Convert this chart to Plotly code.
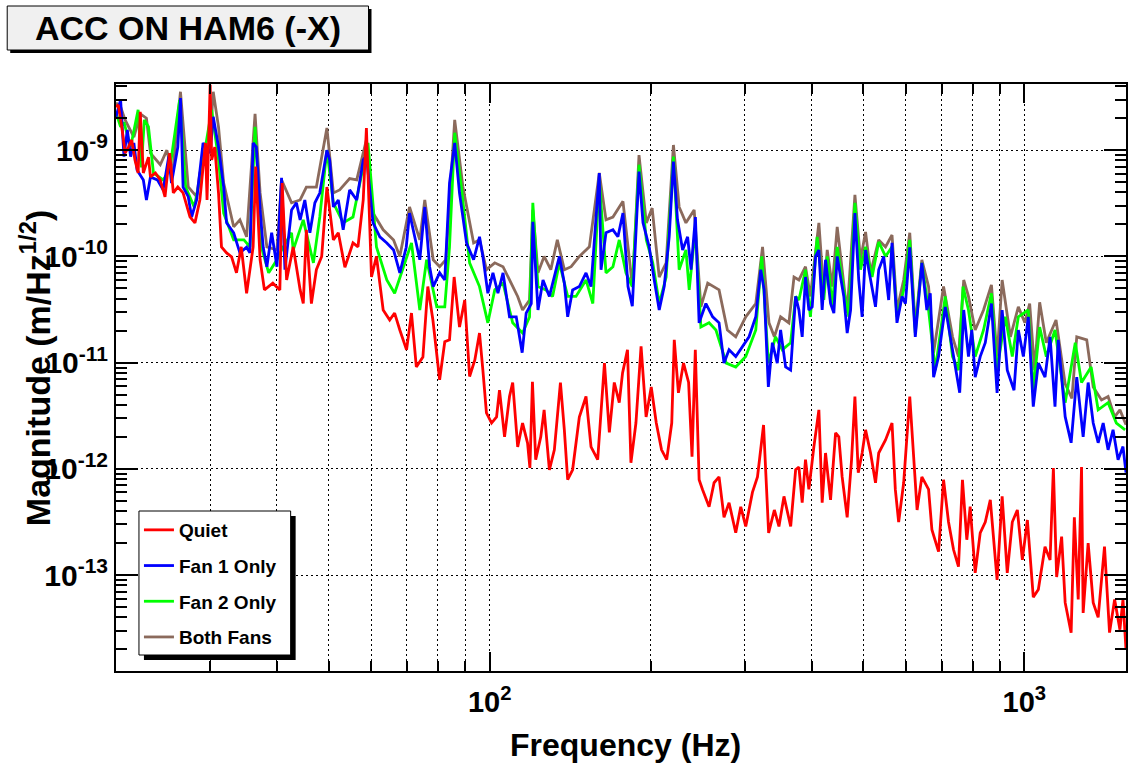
import math
import plotly.graph_objects as go

# ---------------- data (frequency in Hz, magnitude in m/Hz^1/2) ----------------
QUIET = [
    (20.0, 2.56e-9), (20.2, 2.67e-9), (20.5, 1.66e-9), (20.8, 9.4e-10), (21.1, 1.07e-9),
    (21.4, 1.25e-9), (21.7, 8.1e-10), (22.0, 6.1e-10), (22.2, 2.3e-9), (22.5, 6.1e-10),
    (23.0, 8.6e-10), (23.2, 5.6e-10), (23.7, 6.1e-10), (24.2, 5.25e-10), (24.7, 3.63e-10),
    (25.2, 9.4e-10), (25.6, 3.96e-10), (26.1, 4.5e-10), (26.7, 3.96e-10), (27.5, 2.36e-10),
    (28.1, 2.07e-10), (28.7, 3.4e-10), (29.4, 1.17e-9), (29.6, 3.4e-10), (30.0, 4.12e-9),
    (30.2, 8.1e-10), (30.6, 1.07e-9), (31.1, 3.96e-10), (31.5, 1.23e-10), (32.2, 1.08e-10),
    (32.9, 9.9e-11), (33.6, 7.0e-11), (34.3, 1.23e-10), (35.1, 4.5e-11), (36.1, 1.23e-10),
    (36.5, 7.0e-10), (37.2, 9.3e-11), (37.9, 4.84e-11), (39.3, 5.6e-11), (40.5, 4.84e-11),
    (40.9, 4.9e-10), (41.7, 6.0e-11), (42.9, 1.23e-10), (44.2, 4.84e-11), (44.8, 3.6e-11),
    (45.4, 1.78e-10), (46.4, 3.6e-11), (47.4, 7.5e-11), (48.5, 1.0e-10), (49.6, 4.5e-10),
    (51.0, 1.43e-10), (52.1, 1.67e-10), (53.6, 7.9e-11), (55.5, 1.34e-10), (56.7, 1.23e-10),
    (58.0, 3.4e-10), (58.8, 1.62e-9), (60.1, 6.4e-11), (61.4, 1.0e-10), (63.2, 3.13e-11),
    (65.0, 2.52e-11), (66.4, 2.93e-11), (67.9, 2.03e-11), (69.9, 1.32e-11), (71.4, 2.93e-11),
    (72.9, 9.1e-12), (75.0, 1.13e-11), (76.6, 5.2e-11), (78.3, 2.52e-11), (80.6, 6.9e-12),
    (82.4, 1.57e-11), (84.1, 1.64e-11), (85.8, 6.4e-11), (87.8, 2.16e-11), (89.8, 3.89e-11),
    (91.7, 7.4e-12), (93.8, 1.06e-11), (95.7, 1.9e-11), (97.1, 8.5e-12), (98.6, 3.36e-12),
    (100.8, 2.7e-12), (103.0, 3.08e-12), (104.3, 5.5e-12), (106.6, 2.0e-12), (108.9, 4.8e-12),
    (110.4, 6.5e-12), (112.8, 1.61e-12), (115.2, 2.7e-12), (117.7, 1.75e-12), (118.9, 1.02e-12),
    (120.2, 6.6e-12), (121.9, 1.22e-12), (124.6, 2.0e-12), (126.4, 3.59e-12), (129.3, 9.8e-13),
    (132.1, 1.51e-12), (135.6, 6.5e-12), (137.9, 2.33e-12), (139.9, 7.9e-13), (142.9, 9.8e-13),
    (147.1, 3.08e-12), (151.4, 4.8e-12), (154.7, 1.61e-12), (159.2, 1.22e-12), (163.9, 9.9e-12),
    (167.4, 2.2e-12), (171.0, 6.5e-12), (174.7, 4.2e-12), (177.2, 8.0e-12), (181.0, 1.32e-11),
    (183.7, 1.14e-12), (187.7, 2.7e-12), (191.9, 1.42e-11), (196.1, 3.08e-12), (200.5, 5.9e-12),
    (204.9, 2.7e-12), (209.6, 1.51e-12), (214.3, 1.22e-12), (219.0, 2.7e-12), (221.4, 1.64e-11),
    (225.4, 5.2e-12), (230.4, 9.9e-12), (235.5, 6.5e-12), (239.0, 1.3e-12), (242.4, 1.32e-11),
    (246.4, 7.9e-13), (250.0, 6.4e-13), (257.2, 4.4e-13), (262.8, 7.4e-13), (268.5, 8.4e-13),
    (274.3, 3.5e-13), (280.3, 4.8e-13), (288.5, 2.5e-13), (294.8, 4.4e-13), (301.2, 2.87e-13),
    (310.0, 6.0e-13), (316.8, 8.4e-13), (325.2, 2.59e-12), (332.4, 2.5e-13), (340.7, 4.1e-13),
    (347.5, 2.87e-13), (355.1, 5.5e-13), (365.5, 2.87e-13), (373.4, 9.8e-13), (378.7, 1.04e-12),
    (384.1, 4.8e-13), (389.6, 1.22e-12), (395.3, 6.4e-13), (403.9, 1.61e-12), (412.7, 3.59e-12),
    (418.6, 4.8e-13), (424.7, 1.41e-12), (434.0, 5.1e-13), (443.5, 2.18e-12), (449.7, 2.0e-12),
    (456.2, 8.4e-13), (466.2, 3.5e-13), (475.1, 1.22e-12), (482.0, 4.8e-12), (489.0, 9.2e-13),
    (497.2, 1.41e-12), (504.6, 2.33e-12), (515.6, 1.41e-12), (526.7, 7.4e-13), (534.0, 1.41e-12),
    (549.9, 1.87e-12), (565.5, 2.7e-12), (573.6, 6.4e-13), (581.9, 3.16e-13), (594.6, 7.4e-13),
    (610.4, 4.8e-12), (621.0, 1.41e-12), (630.0, 4.1e-13), (643.0, 8.4e-13), (661.9, 6.4e-13),
    (671.5, 2.67e-13), (691.0, 1.66e-13), (706.0, 7.9e-13), (721.3, 3.16e-13), (737.1, 1.73e-13),
    (752.9, 1.2e-13), (765.9, 7.9e-13), (780.4, 2.15e-13), (791.8, 4.4e-13), (809.1, 1.05e-13),
    (826.8, 2.5e-13), (845.0, 3.16e-13), (863.5, 5.1e-13), (889.1, 9.0e-14), (908.7, 5.5e-13),
    (928.9, 1.05e-13), (949.3, 3.16e-13), (970.1, 4.1e-13), (991.3, 1.39e-13), (1013, 3.3e-13),
    (1039, 6.2e-14), (1062, 7.3e-14), (1093, 1.85e-13), (1117, 1.39e-13), (1133, 1.02e-12),
    (1149, 9.6e-14), (1174, 2.3e-13), (1192, 5.5e-14), (1223, 2.87e-14), (1240, 3.5e-13),
    (1261, 5.9e-14), (1279, 1.04e-12), (1288, 4.4e-14), (1316, 2.0e-13), (1345, 5.5e-14),
    (1374, 4.0e-14), (1412, 1.85e-13), (1443, 2.87e-14), (1475, 5.9e-14), (1509, 3.06e-14),
    (1529, 5.9e-14), (1549, 1.99e-14),
]

FAN1 = [
    (20.0, 2.06e-9), (20.4, 2.98e-9), (20.7, 8.7e-10), (21.0, 1.55e-9), (21.3, 8.7e-10),
    (21.6, 1.17e-9), (21.9, 6.5e-10), (22.5, 5.25e-10), (22.8, 3.4e-10), (23.2, 5.6e-10),
    (23.9, 5.25e-10), (24.5, 4.23e-10), (25.1, 8.7e-10), (25.4, 4.9e-10), (26.1, 1.07e-9),
    (26.4, 3.1e-9), (26.7, 4.5e-10), (27.3, 3.65e-10), (27.7, 2.35e-10), (28.3, 3.4e-10),
    (29.1, 1.17e-9), (30.0, 9.4e-10), (30.4, 2.06e-9), (31.1, 1.07e-9), (31.8, 4.5e-10),
    (32.2, 2.07e-10), (33.2, 1.67e-10), (34.1, 1.08e-10), (35.1, 1.22e-10), (35.6, 1.08e-10),
    (36.1, 1.17e-9), (36.6, 1.07e-9), (37.2, 2.74e-10), (37.7, 1.22e-10), (38.3, 8.0e-11),
    (39.1, 1.67e-10), (40.0, 8.0e-11), (40.8, 5.5e-10), (41.4, 7.5e-11), (42.6, 2.74e-10),
    (43.5, 3.2e-10), (44.2, 2.21e-10), (45.1, 3.4e-10), (46.1, 1.67e-10), (47.1, 3.2e-10),
    (48.1, 3.95e-10), (49.6, 1.0e-9), (50.2, 8.1e-10), (51.0, 2.92e-10), (52.1, 3.4e-10),
    (53.2, 1.78e-10), (54.7, 4.23e-10), (56.4, 3.4e-10), (58.0, 8.1e-10), (58.8, 9.0e-10),
    (60.5, 2.07e-10), (62.3, 1.53e-10), (64.2, 1.34e-10), (66.1, 1.15e-10), (67.9, 7.0e-11),
    (69.8, 1.22e-10), (70.8, 2.56e-10), (72.4, 1.53e-10), (74.0, 9.3e-11), (75.6, 2.92e-10),
    (77.2, 8.0e-11), (78.4, 5.2e-11), (80.6, 7.0e-11), (82.4, 6.0e-11), (84.1, 4.9e-10),
    (86.0, 1.17e-9), (87.8, 3.95e-10), (90.5, 1.34e-10), (93.3, 9.3e-11),
    (95.7, 1.53e-10), (97.1, 1.0e-10), (99.2, 4.5e-11), (101.4, 7.0e-11), (103.6, 4.5e-11),
    (105.9, 7.0e-11), (108.9, 2.7e-11), (112.1, 2.7e-11), (115.0, 1.24e-11), (117.0, 2.93e-11),
    (119.6, 3.6e-11), (120.4, 2.12e-10), (123.1, 3.13e-11), (125.8, 6.0e-11), (129.3, 4.2e-11),
    (132.1, 6.4e-11), (135.0, 1.0e-10), (137.9, 5.6e-11), (139.9, 2.7e-11), (142.9, 4.84e-11),
    (147.1, 5.2e-11), (151.4, 7.0e-11), (154.7, 5.2e-11), (158.1, 2.35e-10), (160.3, 6.1e-10),
    (161.5, 7.5e-11), (165.0, 1.67e-10), (170.0, 1.78e-10), (173.7, 1.53e-10), (177.5, 2.56e-10),
    (181.4, 5.2e-11), (184.8, 3.4e-11), (188.1, 1.78e-10), (190.2, 6.3e-10), (193.5, 2.07e-10),
    (198.8, 1.22e-10), (203.1, 6.0e-11), (207.5, 3.13e-11), (212.0, 5.2e-11), (216.6, 1.53e-10),
    (220.6, 7.8e-10), (224.5, 2.21e-10), (229.5, 1.15e-10), (234.5, 1.53e-10), (238.0, 7.5e-11),
    (242.5, 2.35e-10), (246.4, 2.37e-11), (253.7, 3.6e-11), (261.2, 2.7e-11), (268.5, 2.37e-11),
    (274.3, 9.9e-12), (280.3, 1.32e-11), (288.5, 1.14e-11), (297.0, 1.42e-11), (305.5, 1.75e-11),
    (314.5, 2.7e-11), (321.3, 7.5e-11), (326.0, 4.84e-11), (332.0, 5.9e-12), (337.8, 1.54e-11),
    (345.0, 9.9e-12), (350.0, 2.03e-11), (357.6, 9.1e-12), (365.4, 8.5e-12), (373.4, 4.2e-11),
    (378.7, 3.13e-11), (384.1, 1.75e-11), (389.6, 6.4e-11), (395.3, 3.13e-11), (401.0, 3.35e-11),
    (406.9, 1.0e-10), (412.7, 1.15e-10), (418.6, 3.13e-11), (424.7, 9.3e-11), (434.0, 3.6e-11),
    (440.2, 2.93e-11), (446.6, 1.0e-10), (453.1, 6.4e-11), (459.5, 4.2e-11), (466.2, 1.9e-11),
    (473.1, 3.13e-11), (482.0, 2.56e-10), (490.0, 6.0e-11), (497.2, 2.7e-11), (504.6, 1.15e-10),
    (511.6, 7.5e-11), (519.0, 5.2e-11), (526.7, 3.35e-11), (534.0, 7.5e-11), (545.6, 1.0e-10),
    (557.4, 3.89e-11), (565.5, 1.34e-10), (577.7, 2.37e-11), (590.4, 4.2e-11), (599.1, 3.6e-11),
    (610.4, 1.22e-10), (625.1, 1.75e-11), (643.0, 8.7e-11), (657.0, 3.13e-11), (666.8, 4.5e-11),
    (676.4, 7.3e-12), (691.0, 1.14e-11), (711.2, 3.35e-11), (726.9, 1.75e-11), (742.6, 8.5e-12),
    (756.9, 5.2e-12), (770.1, 3.13e-11), (786.0, 1.14e-11), (797.4, 2.03e-11), (809.1, 7.3e-12),
    (826.8, 1.14e-11), (845.0, 1.54e-11), (867.7, 3.6e-11), (889.1, 5.2e-12), (908.7, 3.13e-11),
    (928.9, 8.5e-12), (956.3, 5.5e-12), (974.3, 2.03e-11), (995.6, 1.14e-11), (1017, 2.7e-11),
    (1039, 3.85e-12), (1062, 9.9e-12), (1093, 7.3e-12), (1117, 1.75e-11), (1141, 3.85e-12),
    (1157, 1.64e-11), (1192, 3.1e-12), (1223, 1.76e-12), (1253, 7.3e-12), (1288, 2.0e-12),
    (1316, 6.5e-12), (1345, 2.7e-12), (1374, 1.76e-12), (1404, 2.7e-12), (1434, 1.51e-12),
    (1465, 2.33e-12), (1497, 1.22e-12), (1529, 1.62e-12), (1549, 9.2e-13),
]

FAN2 = [
    (20.0, 2.25e-9), (20.4, 1.66e-9), (20.7, 1.83e-9), (21.3, 1.07e-9), (22.0, 2.4e-9),
    (22.3, 6.9e-10), (22.6, 1.93e-9), (23.0, 1.66e-9), (23.5, 6.1e-10), (24.5, 5.25e-10),
    (25.2, 6.5e-10), (26.3, 2.98e-9), (27.0, 4.5e-10), (28.0, 2.92e-10), (28.7, 5.25e-10),
    (30.2, 2.4e-9), (31.1, 8.1e-10), (31.8, 2.56e-10), (33.2, 1.43e-10), (34.7, 1.43e-10),
    (35.6, 1.23e-10), (36.4, 1.66e-9), (37.4, 1.23e-10), (38.6, 7.0e-11), (40.0, 9.3e-11),
    (40.8, 1.15e-10), (42.6, 1.67e-10), (42.9, 1.15e-10), (44.8, 2.21e-10), (46.8, 8.7e-11),
    (48.1, 2.35e-10), (49.6, 1.0e-9), (51.0, 3.2e-10), (53.2, 2.07e-10), (55.5, 2.35e-10),
    (58.0, 7.0e-10), (59.2, 1.17e-9), (61.4, 1.23e-10), (64.2, 6.0e-11), (66.4, 4.5e-11),
    (68.8, 7.5e-11), (71.4, 1.34e-10), (74.0, 3.13e-11), (76.2, 9.3e-11), (79.6, 3.35e-11),
    (82.4, 3.35e-11), (84.1, 1.23e-10), (86.0, 1.46e-9), (88.5, 4.5e-10), (91.7, 8.7e-11),
    (95.7, 5.2e-11), (99.2, 2.37e-11), (102.2, 4.84e-11), (105.9, 5.6e-11), (110.4, 2.37e-11),
    (115.2, 1.9e-11), (118.7, 2.7e-11), (120.4, 3.2e-10), (123.1, 5.2e-11), (127.4, 4.84e-11),
    (131.1, 4.2e-11), (135.0, 8.7e-11), (139.9, 4.2e-11), (145.0, 4.2e-11), (151.4, 6.0e-11),
    (155.9, 3.6e-11), (160.3, 5.25e-10), (165.0, 7.0e-11), (170.0, 8.0e-11), (174.7, 1.43e-10),
    (179.8, 7.0e-11), (184.8, 5.2e-11), (190.2, 7.3e-10), (196.3, 1.43e-10), (201.8, 8.7e-11),
    (207.5, 3.6e-11), (213.8, 6.4e-11), (220.6, 8.7e-10), (226.1, 7.5e-11), (232.8, 1.15e-10),
    (236.1, 4.84e-11), (242.4, 1.78e-10), (248.3, 2.16e-11), (257.2, 2.37e-11), (264.9, 2.03e-11),
    (277.0, 9.9e-12), (288.5, 9.1e-12), (301.2, 1.14e-11), (314.5, 2.03e-11), (322.7, 1.0e-10),
    (332.0, 9.9e-12), (342.4, 1.75e-11), (352.5, 1.32e-11), (365.4, 1.54e-11), (373.4, 4.2e-11),
    (378.7, 3.89e-11), (389.6, 7.5e-11), (397.9, 2.7e-11), (409.7, 1.53e-10), (421.6, 3.89e-11),
    (427.8, 1.0e-10), (437.2, 3.35e-11), (446.6, 1.23e-10), (459.5, 4.84e-11), (469.5, 2.7e-11),
    (482.0, 3.2e-10), (493.7, 7.5e-11), (504.6, 1.23e-10), (519.0, 6.4e-11), (534.0, 1.37e-10),
    (549.9, 1.0e-10), (565.5, 1.23e-10), (577.7, 2.7e-11), (594.6, 4.84e-11), (610.4, 1.43e-10),
    (625.1, 1.9e-11), (643.0, 8.7e-11), (661.9, 3.13e-11), (681.3, 8.5e-12), (711.2, 4.2e-11),
    (733.9, 1.14e-11), (752.9, 8.5e-12), (767.8, 5.2e-11), (786.0, 3.13e-11), (809.1, 1.14e-11),
    (838.7, 2.03e-11), (867.7, 4.5e-11), (889.1, 8.5e-12), (921.1, 2.7e-11), (949.3, 1.14e-11),
    (974.3, 2.7e-11), (1017, 3.13e-11), (1039, 5.5e-12), (1068, 2.16e-11), (1099, 1.14e-11),
    (1141, 2.03e-11), (1192, 4.2e-12), (1245, 1.54e-11), (1279, 6.5e-12), (1333, 9.1e-12),
    (1374, 3.59e-12), (1434, 4.2e-12), (1486, 2.7e-12), (1543, 2.33e-12),
]

BOTH = [
    (20.0, 2.79e-9), (20.4, 2.56e-9), (20.8, 1.93e-9), (21.6, 1.33e-9), (22.2, 2.2e-9),
    (22.8, 2.0e-9), (23.2, 9.4e-10), (24.2, 7.3e-10), (24.9, 1.0e-9), (25.5, 5.85e-10),
    (26.4, 3.55e-9), (27.3, 4.5e-10), (28.3, 3.65e-10), (28.7, 6.1e-10), (30.0, 1.25e-9),
    (30.4, 3.55e-9), (31.1, 1.66e-9), (31.8, 4.9e-10), (33.2, 1.9e-10), (34.1, 2.21e-10),
    (35.1, 1.53e-10), (36.4, 2.2e-9), (37.2, 3.96e-10), (38.3, 1.23e-10), (40.0, 1.15e-10),
    (40.8, 5.25e-10), (42.6, 3.2e-10), (44.2, 3.4e-10), (45.4, 4.5e-10), (47.4, 4.5e-10),
    (49.6, 1.62e-9), (51.0, 3.96e-10), (52.4, 4.23e-10), (54.7, 5.4e-10), (56.4, 5.25e-10),
    (58.8, 1.25e-9), (60.5, 2.56e-10), (63.2, 1.78e-10), (66.1, 1.43e-10), (67.9, 1.0e-10),
    (70.8, 2.92e-10), (74.0, 1.43e-10), (75.6, 3.4e-10), (78.4, 9.3e-11), (80.6, 8.0e-11),
    (82.8, 9.3e-11), (86.0, 1.93e-9), (89.1, 4.5e-10), (93.3, 1.34e-10),
    (95.7, 1.43e-10), (98.6, 7.5e-11), (102.2, 8.7e-11), (105.9, 8.0e-11), (109.7, 5.6e-11),
    (112.8, 4.2e-11), (115.2, 3.13e-11), (118.7, 3.89e-11), (120.4, 2.74e-10), (123.1, 7.0e-11),
    (126.4, 1.0e-10), (130.1, 7.5e-11), (133.8, 1.43e-10), (137.9, 7.5e-11), (142.0, 8.0e-11),
    (147.1, 1.0e-10), (153.6, 1.23e-10), (157.0, 2.74e-10), (160.3, 6.1e-10), (165.0, 2.21e-10),
    (170.0, 2.35e-10), (177.5, 3.3e-10), (182.4, 1.0e-10), (184.9, 5.2e-11), (190.2, 9.0e-10),
    (196.3, 2.07e-10), (201.3, 2.85e-10), (207.5, 6.4e-11), (213.8, 8.7e-11), (220.6, 1.12e-9),
    (226.1, 2.92e-10), (232.8, 2.07e-10), (241.2, 2.74e-10), (248.3, 3.35e-11), (255.7, 5.6e-11),
    (268.5, 4.84e-11), (278.3, 2.03e-11), (288.5, 1.75e-11), (301.2, 2.7e-11), (314.5, 3.6e-11),
    (323.8, 1.23e-10), (332.9, 2.37e-11), (340.7, 1.75e-11), (350.0, 2.7e-11), (362.7, 2.37e-11),
    (370.8, 6.4e-11), (378.7, 6.0e-11), (389.6, 8.0e-11), (397.9, 4.2e-11), (412.7, 2.07e-10),
    (421.6, 4.5e-11), (427.8, 1.15e-10), (437.2, 5.2e-11), (446.6, 1.9e-10), (456.2, 7.5e-11),
    (466.2, 2.93e-11), (482.0, 3.79e-10), (493.7, 9.3e-11), (504.6, 1.7e-10), (515.6, 7.0e-11),
    (534.0, 1.43e-10), (549.9, 1.23e-10), (565.5, 1.59e-10), (577.7, 3.13e-11), (594.6, 6.0e-11),
    (610.4, 1.67e-10), (625.1, 2.16e-11), (643.0, 9.3e-11), (661.9, 5.2e-11), (676.4, 1.24e-11),
    (706.0, 5.2e-11), (733.9, 1.75e-11), (752.9, 1.14e-11), (770.1, 6.0e-11), (786.0, 4.2e-11),
    (809.1, 2.03e-11), (838.7, 3.13e-11), (867.7, 5.4e-11), (889.1, 1.14e-11), (908.7, 6.0e-11),
    (941.6, 1.75e-11), (974.3, 3.35e-11), (1002, 2.37e-11), (1023, 3.6e-11), (1045, 8.5e-12),
    (1068, 3.7e-11), (1099, 1.54e-11), (1146, 2.52e-11), (1192, 6.3e-12), (1227, 4.6e-12),
    (1253, 1.75e-11), (1308, 1.64e-11), (1345, 5.9e-12), (1394, 4.46e-12), (1434, 4.8e-12),
    (1475, 3.08e-12), (1509, 3.59e-12), (1549, 2.6e-12),
]

quiet_freq = [p[0] for p in QUIET]
quiet_mag = [p[1] for p in QUIET]
fan1_freq = [p[0] for p in FAN1]
fan1_mag = [p[1] for p in FAN1]
fan2_freq = [p[0] for p in FAN2]
fan2_mag = [p[1] for p in FAN2]
both_freq = [p[0] for p in BOTH]
both_mag = [p[1] for p in BOTH]

X_MIN, X_MAX = 20, 1549
Y_MIN, Y_MAX = 1.25e-14, 4.2e-9
X_MAJOR = [100, 1000]
X_MAJOR_TEXT = ["10<sup>2</sup>", "10<sup>3</sup>"]
X_MINOR = [20, 30, 40, 50, 60, 70, 80, 90, 200, 300, 400, 500, 600, 700, 800, 900]
Y_MAJOR = [1e-13, 1e-12, 1e-11, 1e-10, 1e-9]
Y_MAJOR_TEXT = ["10<sup>-13</sup>", "10<sup>-12</sup>", "10<sup>-11</sup>",
                "10<sup>-10</sup>", "10<sup>-9</sup>"]
Y_MINOR = [k * 10.0 ** e for e in range(-14, -8) for k in range(2, 10)]

TITLE = "ACC ON HAM6 (-X)"
X_TITLE = "Frequency (Hz)"
Y_TITLE = "Magnitude (m/Hz<sup>1/2</sup>)"

# ---------------- layout geometry ----------------
W, H = 1130, 763
ML, MR, MT, MB = 116, 2, 84, 92
PW, PH = W - ML - MR, H - MT - MB


def px_x(px):
    return (px - ML) / PW


def px_y(py):
    return (H - MB - py) / PH


FONT = "Liberation Sans, Arial, Helvetica, sans-serif"

fig = go.Figure()
series = [
    ("Both Fans", both_freq, both_mag, "#8b6a5c", 4),
    ("Fan 2 Only", fan2_freq, fan2_mag, "#00ff00", 3),
    ("Fan 1 Only", fan1_freq, fan1_mag, "#0000ff", 2),
    ("Quiet", quiet_freq, quiet_mag, "#ff0000", 1),
]
for name, fx, my, col, rank in series:
    fig.add_trace(go.Scatter(
        x=fx, y=my, mode="lines", name=name, legendgroup="g%d" % rank,
        legendrank=rank, line=dict(color=col, width=2.8),
    ))

dot = "2px,3px"
fig.update_xaxes(
    type="log", range=[math.log10(X_MIN), math.log10(X_MAX)],
    tickmode="array", tickvals=X_MAJOR, ticktext=X_MAJOR_TEXT,
    ticks="inside", ticklen=19, tickwidth=1.5, tickcolor="black",
    showgrid=True, gridcolor="black", gridwidth=1, griddash=dot,
    showline=True, linecolor="black", linewidth=2, mirror="allticks",
    tickfont=dict(family=FONT, size=29, color="black", weight="bold"),
    ticklabelstandoff=4,
    minor=dict(tickmode="array", tickvals=X_MINOR, ticks="inside", ticklen=10,
               tickwidth=1.5, tickcolor="black", showgrid=True,
               gridcolor="black", gridwidth=1, griddash=dot),
    zeroline=False,
)
fig.update_yaxes(
    type="log", range=[math.log10(Y_MIN), math.log10(Y_MAX)],
    tickmode="array", tickvals=Y_MAJOR, ticktext=Y_MAJOR_TEXT,
    ticks="inside", ticklen=22, tickwidth=1.5, tickcolor="black",
    showgrid=True, gridcolor="black", gridwidth=1, griddash=dot,
    showline=True, linecolor="black", linewidth=2, mirror="allticks",
    tickfont=dict(family=FONT, size=30, color="black", weight="bold"),
    ticklabelstandoff=0,
    minor=dict(tickmode="array", tickvals=Y_MINOR, ticks="inside", ticklen=11,
               tickwidth=1.5, tickcolor="black", showgrid=False),
    zeroline=False,
)

shapes = [
    # title box shadow + box
    dict(type="rect", xref="paper", yref="paper", x0=px_x(10), x1=px_x(372),
         y0=px_y(53), y1=px_y(9), fillcolor="black", line=dict(width=0)),
    dict(type="rect", xref="paper", yref="paper", x0=px_x(7), x1=px_x(369),
         y0=px_y(50), y1=px_y(6), fillcolor="#f0f0f0",
         line=dict(color="black", width=1)),
    # legend frame: shadow + white box (legend items drawn on top)
    dict(type="rect", xref="paper", yref="paper", x0=px_x(144), x1=px_x(296),
         y0=px_y(660), y1=px_y(516), fillcolor="black", line=dict(width=0),
         layer="above"),
    dict(type="rect", xref="paper", yref="paper", x0=px_x(139), x1=px_x(291),
         y0=px_y(655), y1=px_y(511), fillcolor="white",
         line=dict(color="black", width=1), layer="above"),
]

annotations = [
    dict(text=TITLE, xref="paper", yref="paper", x=px_x(188), y=px_y(28),
         xanchor="center", yanchor="middle", showarrow=False,
         font=dict(family=FONT, size=34, color="black", weight="bold")),
    dict(text=X_TITLE, xref="paper", yref="paper", x=px_x(627), y=px_y(745),
         xanchor="center", yanchor="middle", showarrow=False,
         font=dict(family=FONT, size=32, color="black", weight="bold")),
    dict(text=Y_TITLE, xref="paper", yref="paper", x=px_x(35), y=px_y(368),
         xanchor="center", yanchor="middle", showarrow=False, textangle=-90,
         font=dict(family=FONT, size=34, color="black", weight="bold")),
]

fig.update_layout(
    width=W, height=H, autosize=False,
    margin=dict(l=ML, r=MR, t=MT, b=MB, pad=0),
    paper_bgcolor="white", plot_bgcolor="white",
    shapes=shapes, annotations=annotations,
    showlegend=True,
    legend=dict(
        x=px_x(139), y=px_y(511), xanchor="left", yanchor="top",
        bgcolor="rgba(0,0,0,0)", borderwidth=0,
        font=dict(family=FONT, size=19, color="black", weight="bold"),
        traceorder="grouped", tracegroupgap=8, itemwidth=30,
    ),
)

fig.write_html("out.html", config={"displayModeBar": False})
